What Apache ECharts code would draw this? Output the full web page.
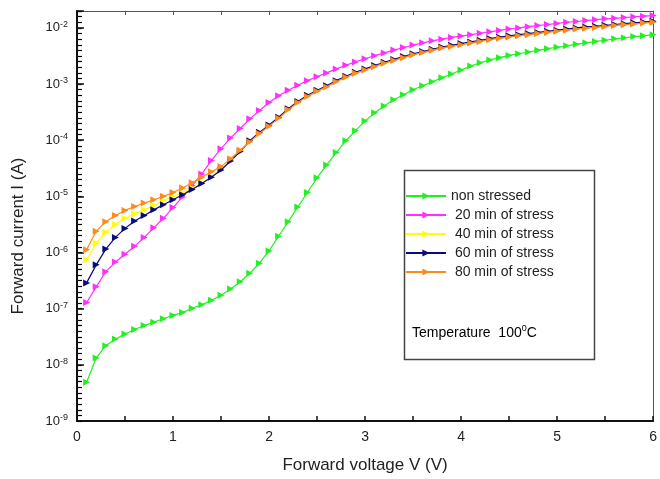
<!DOCTYPE html>
<html>
<head>
<meta charset="utf-8">
<script src="https://cdn.jsdelivr.net/npm/echarts@6/dist/echarts.min.js"></script>
<style>html,body{margin:0;padding:0;background:#fff;}#c{width:660px;height:479px;}</style>
</head>
<body>
<div id="c"></div>
<script>
// Forward voltage (V)
const voltage = [0.1,0.2,0.3,0.4,0.5,0.6,0.7,0.8,0.9,1.0,1.1,1.2,1.3,1.4,1.5,1.6,1.7,1.8,1.9,2.0,
  2.1,2.2,2.3,2.4,2.5,2.6,2.7,2.8,2.9,3.0,3.1,3.2,3.3,3.4,3.5,3.6,3.7,3.8,3.9,4.0,
  4.1,4.2,4.3,4.4,4.5,4.6,4.7,4.8,4.9,5.0,5.1,5.2,5.3,5.4,5.5,5.6,5.7,5.8,5.9,6.0];

// Forward current (A)
const nonStressed = [4.90e-9,1.32e-8,2.19e-8,2.88e-8,3.55e-8,4.27e-8,5.01e-8,5.75e-8,6.61e-8,7.59e-8,
  8.51e-8,1.02e-7,1.17e-7,1.41e-7,1.74e-7,2.24e-7,3.02e-7,4.27e-7,6.46e-7,1.07e-6,
  1.95e-6,3.55e-6,6.46e-6,1.17e-5,2.14e-5,3.63e-5,6.03e-5,9.77e-5,1.48e-4,2.19e-4,
  3.09e-4,4.07e-4,5.25e-4,6.46e-4,7.94e-4,9.33e-4,1.10e-3,1.29e-3,1.51e-3,1.78e-3,
  2.09e-3,2.40e-3,2.69e-3,2.95e-3,3.24e-3,3.47e-3,3.72e-3,3.98e-3,4.27e-3,4.52e-3,
  4.79e-3,5.13e-3,5.43e-3,5.75e-3,6.03e-3,6.38e-3,6.68e-3,7.00e-3,7.24e-3,7.59e-3];

const stress20 = [1.29e-7,2.45e-7,4.57e-7,6.76e-7,9.33e-7,1.29e-6,1.86e-6,2.75e-6,4.07e-6,6.31e-6,
  9.77e-6,1.55e-5,2.51e-5,4.37e-5,7.08e-5,1.10e-4,1.62e-4,2.40e-4,3.39e-4,4.68e-4,
  6.17e-4,7.76e-4,9.55e-4,1.15e-3,1.35e-3,1.58e-3,1.86e-3,2.16e-3,2.48e-3,2.82e-3,
  3.20e-3,3.59e-3,4.03e-3,4.47e-3,4.95e-3,5.43e-3,5.89e-3,6.31e-3,6.76e-3,7.16e-3,
  7.59e-3,8.04e-3,8.51e-3,9.02e-3,9.55e-3,1.00e-2,1.05e-2,1.10e-2,1.15e-2,1.20e-2,
  1.26e-2,1.30e-2,1.35e-2,1.40e-2,1.45e-2,1.48e-2,1.53e-2,1.58e-2,1.62e-2,1.66e-2];

const stress40 = [7.41e-7,1.48e-6,2.29e-6,3.16e-6,4.07e-6,4.90e-6,5.75e-6,6.92e-6,8.32e-6,1.00e-5,
  1.17e-5,1.41e-5,1.74e-5,2.24e-5,3.02e-5,4.37e-5,6.31e-5,9.55e-5,1.35e-4,1.82e-4,
  2.51e-4,3.55e-4,4.79e-4,6.17e-4,7.59e-4,9.12e-4,1.12e-3,1.35e-3,1.58e-3,1.82e-3,
  2.09e-3,2.40e-3,2.69e-3,3.02e-3,3.39e-3,3.72e-3,4.07e-3,4.47e-3,4.79e-3,5.13e-3,
  5.50e-3,5.89e-3,6.31e-3,6.68e-3,7.08e-3,7.41e-3,7.76e-3,8.13e-3,8.51e-3,8.91e-3,
  9.33e-3,9.77e-3,1.01e-2,1.05e-2,1.08e-2,1.12e-2,1.16e-2,1.20e-2,1.24e-2,1.29e-2];

const stress60 = [2.88e-7,6.03e-7,1.15e-6,1.86e-6,2.69e-6,3.63e-6,4.57e-6,5.75e-6,7.08e-6,8.71e-6,
  1.07e-5,1.32e-5,1.70e-5,2.19e-5,2.95e-5,4.27e-5,6.31e-5,9.77e-5,1.38e-4,1.86e-4,
  2.57e-4,3.63e-4,4.90e-4,6.31e-4,7.76e-4,9.33e-4,1.15e-3,1.38e-3,1.62e-3,1.86e-3,
  2.14e-3,2.45e-3,2.75e-3,3.09e-3,3.47e-3,3.80e-3,4.17e-3,4.57e-3,4.90e-3,5.25e-3,
  5.62e-3,6.03e-3,6.46e-3,6.84e-3,7.24e-3,7.59e-3,7.94e-3,8.32e-3,8.71e-3,9.12e-3,
  9.55e-3,1.00e-2,1.04e-2,1.07e-2,1.11e-2,1.15e-2,1.19e-2,1.23e-2,1.27e-2,1.32e-2];

const stress80 = [1.12e-6,2.40e-6,3.55e-6,4.57e-6,5.62e-6,6.61e-6,7.59e-6,8.71e-6,1.00e-5,1.17e-5,
  1.41e-5,1.74e-5,2.19e-5,2.75e-5,3.39e-5,4.68e-5,6.61e-5,9.33e-5,1.32e-4,1.78e-4,
  2.45e-4,3.47e-4,4.68e-4,6.03e-4,7.41e-4,8.91e-4,1.10e-3,1.32e-3,1.55e-3,1.78e-3,
  2.04e-3,2.34e-3,2.63e-3,2.95e-3,3.31e-3,3.63e-3,3.98e-3,4.37e-3,4.68e-3,5.01e-3,
  5.37e-3,5.75e-3,6.17e-3,6.53e-3,6.92e-3,7.24e-3,7.59e-3,7.94e-3,8.32e-3,8.71e-3,
  9.12e-3,9.55e-3,9.89e-3,1.02e-2,1.06e-2,1.10e-2,1.14e-2,1.17e-2,1.22e-2,1.26e-2];

const seriesNames = ['non stressed','20 min of stress','40 min of stress','60 min of stress','80 min of stress'];
const seriesValues = [nonStressed, stress20, stress40, stress60, stress80];
const seriesColors = ['#22f022','#ff30ff','#ffff00','#0a0a80','#ff8a1c'];

// y range (A)
const yMin = 1e-9, yMax = 0.02;

const FONT = 'Liberation Sans, Arial, sans-serif';
const tri = 'path://M0,0 L10,5 L0,10 Z';

const chart = echarts.init(document.getElementById('c'), null, {renderer: 'canvas'});

const series = seriesNames.map((name, i) => ({
  name: name,
  type: 'line',
  xAxisIndex: 0,
  yAxisIndex: 0,
  data: voltage.map((v, k) => [v, seriesValues[i][k]]),
  symbol: tri,
  symbolSize: 7,
  showSymbol: true,
  showAllSymbol: true,
  lineStyle: {color: seriesColors[i], width: 1.2},
  itemStyle: {color: seriesColors[i]},
  z: 2 + i,
  animation: false
}));
// empty series that only activates the helper grid used for the minor ticks
series.push({type: 'line', xAxisIndex: 2, yAxisIndex: 2, data: [], silent: true});

function isPow10(v) {
  const e = Math.log10(v);
  return Math.abs(e - Math.round(e)) < 1e-6;
}

const gridBox = {left: 77, right: 3, top: 11, bottom: 58, containLabel: false};

chart.setOption({
  animation: false,
  backgroundColor: '#fff',
  grid: [Object.assign({}, gridBox), Object.assign({}, gridBox)],
  xAxis: [{
    gridIndex: 0, type: 'value', min: 0, max: 6, interval: 1, position: 'bottom',
    name: 'Forward voltage V (V)', nameLocation: 'middle', nameGap: 36,
    nameTextStyle: {fontFamily: FONT, fontSize: 17, color: '#222'},
    axisLine: {show: true, onZero: false, lineStyle: {color: '#111', width: 2}},
    axisTick: {show: true, inside: true, length: 5, lineStyle: {color: '#111', width: 1.5}},
    minorTick: {show: true, splitNumber: 2, length: 5, lineStyle: {color: '#111', width: 1.5}},
    axisLabel: {fontFamily: FONT, fontSize: 14, color: '#222', margin: 9},
    splitLine: {show: false}
  }, {
    gridIndex: 0, type: 'value', min: 0, max: 6, interval: 1, position: 'top',
    axisLine: {show: true, onZero: false, lineStyle: {color: '#555', width: 1}},
    axisTick: {show: true, inside: true, length: 4, lineStyle: {color: '#555', width: 1}},
    minorTick: {show: true, splitNumber: 2, length: 4, lineStyle: {color: '#555', width: 1}},
    axisLabel: {show: false},
    splitLine: {show: false}
  }, {
    gridIndex: 1, type: 'value', min: 0, max: 6, position: 'bottom',
    axisLine: {show: false}, axisTick: {show: false}, axisLabel: {show: false}, splitLine: {show: false}
  }],
  yAxis: [{
    gridIndex: 0, type: 'log', logBase: 10, min: yMin, max: yMax, interval: 1,
    name: 'Forward current I (A)', nameLocation: 'middle', nameGap: 50,
    nameTextStyle: {fontFamily: FONT, fontSize: 17, color: '#222', padding: [0, 40, 0, 0]},
    axisLine: {show: true, onZero: false, lineStyle: {color: '#111', width: 2}},
    axisTick: {show: true, inside: true, length: 7, lineStyle: {color: '#111', width: 1.5}},
    axisLabel: {
      margin: 9,
      formatter: function (v) {
        if (!isPow10(v)) return '';
        return '{b|10}{s|' + Math.round(Math.log10(v)) + '}';
      },
      rich: {
        b: {fontFamily: FONT, fontSize: 13, color: '#222', lineHeight: 16},
        s: {fontFamily: FONT, fontSize: 9, color: '#222', verticalAlign: 'top', lineHeight: 16, padding: [0, 0, 6, 0]}
      }
    },
    splitLine: {show: false},
    z: 5
  }, {
    gridIndex: 0, type: 'log', logBase: 10, min: yMin, max: yMax, position: 'right',
    axisLine: {show: true, onZero: false, lineStyle: {color: '#555', width: 1}},
    axisTick: {show: false},
    axisLabel: {show: false},
    splitLine: {show: false}
  }, {
    // decade-exponent helper axis in an identical grid, used only for the minor ticks on the left
    gridIndex: 1, type: 'value', min: Math.log10(yMin), max: Math.log10(yMax), interval: 1, position: 'left',
    axisLine: {show: true, onZero: false, lineStyle: {color: '#111', width: 2}},
    axisTick: {show: true, inside: true, length: 5, lineStyle: {color: '#000', width: 1.2}},
    minorTick: {show: true, splitNumber: 10, length: 5, lineStyle: {color: '#000', width: 1.2}},
    axisLabel: {show: false},
    splitLine: {show: false}
  }],
  legend: {
    orient: 'vertical', left: 400, top: 184,
    data: seriesNames,
    itemWidth: 40, itemHeight: 9, itemGap: 5,
    formatter: function (n) { return n === 'non stressed' ? n : ' ' + n; },
    textStyle: {fontFamily: FONT, fontSize: 14, color: '#222', lineHeight: 14},
    selectedMode: false
  },
  graphic: [{
    type: 'rect', left: 402, top: 168, z: 1,
    shape: {width: 190, height: 189},
    style: {fill: 'none', stroke: '#444', lineWidth: 1.5}
  }, {
    type: 'text', left: 412, top: 324, z: 10,
    style: {
      text: '{a|Temperature  100}{s|0}{a|C}',
      rich: {
        a: {fontFamily: FONT, fontSize: 14, color: '#222', lineHeight: 18},
        s: {fontFamily: FONT, fontSize: 9, color: '#222', verticalAlign: 'top', lineHeight: 18, padding: [0, 0, 7, 0]}
      }
    }
  }],
  series: series
});
</script>
</body>
</html>
